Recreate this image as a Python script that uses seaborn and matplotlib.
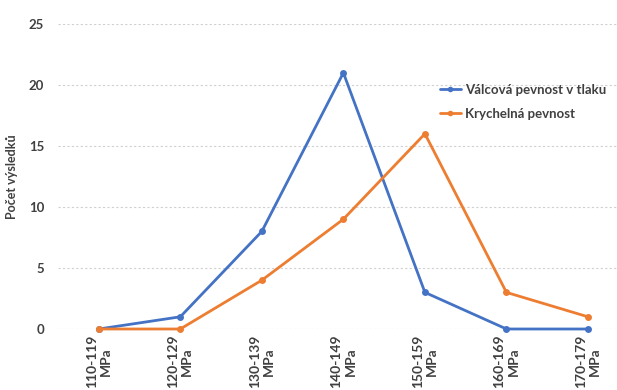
import matplotlib
matplotlib.use("Agg")
import matplotlib.pyplot as plt
import seaborn as sns
import pandas as pd

categories = ["110-119\nMPa", "120-129\nMPa", "130-139\nMPa", "140-149\nMPa",
              "150-159\nMPa", "160-169\nMPa", "170-179\nMPa"]
valcova = [0, 1, 8, 21, 3, 0, 0]
krychelna = [0, 0, 4, 9, 16, 3, 1]
series_names = ["Válcová pevnost v tlaku", "Krychelná pevnost"]
yticks = [0, 5, 10, 15, 20, 25]

sns.set_theme(style="white")
plt.rcParams['font.family'] = ['Lato', 'DejaVu Sans']

df = pd.DataFrame({
    "x": list(range(len(categories))) * 2,
    "value": valcova + krychelna,
    "series": [series_names[0]] * len(categories) + [series_names[1]] * len(categories),
})

fig = plt.figure(figsize=(6.17, 3.9), dpi=100)
ax = fig.add_axes([58 / 617, (390 - 329) / 390, (617 - 58) / 617, (329 - 24) / 390])

palette = {series_names[0]: "#4472C4", series_names[1]: "#ED7D31"}
sns.lineplot(data=df, x="x", y="value", hue="series", palette=palette,
             marker="o", markersize=5, markeredgewidth=0, linewidth=2,
             ax=ax, clip_on=False, zorder=3)

ax.set_xlim(-0.5, 6 + 29 / 81.5)
ax.set_ylim(0, 25)
ax.set_yticks(yticks)
ax.set_yticklabels([str(t) for t in yticks], fontsize=9.5, color="#404040", fontweight="bold")
ax.set_xticks(range(len(categories)))
ax.set_xticklabels(categories, rotation=90, fontsize=10, color="#404040",
                   ha="center", va="top", multialignment="center", fontweight="bold")
ax.tick_params(axis="both", length=0, pad=10)
ax.tick_params(axis="x", pad=4)
ax.yaxis.grid(True, color="#d0d0d0", linestyle=(0, (2, 2)), linewidth=0.8)
ax.xaxis.grid(False)
for s in ax.spines.values():
    s.set_visible(False)
ax.set_xlabel("")
ax.set_ylabel("Počet výsledků", fontsize=9, color="#404040", fontweight="bold", labelpad=10)
ax.yaxis.set_label_coords(-40 / 559, 0.5)

handles, labels = ax.get_legend_handles_labels()
for h in handles:
    h.set_markersize(4)
ax.legend(handles, labels, loc="upper left", bbox_to_anchor=(428 / 617, (390 - 72) / 390),
          bbox_transform=fig.transFigure, frameon=False,
          handlelength=1.6, handletextpad=0.3, labelspacing=0.9,
          prop={"weight": "bold", "size": 9.5})
for t in ax.get_legend().get_texts():
    t.set_color("#404040")

fig.savefig("out.png", dpi=100, facecolor="white")
